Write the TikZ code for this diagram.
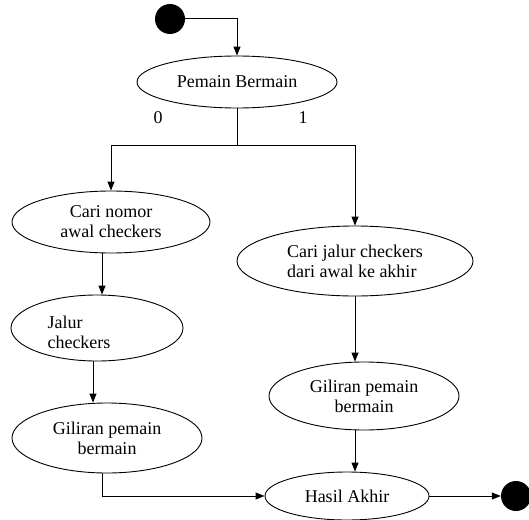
\documentclass[tikz,border=0pt]{standalone}
\usepackage{fontspec}
\setmainfont{Liberation Serif}
\newfontfamily\labelfont{Liberation Serif}
\usetikzlibrary{shapes.geometric,arrows.meta}
\begin{document}
\begin{tikzpicture}[x=1pt,y=-1pt,
  every node/.style={font=\labelfont\fontsize{18}{20}\selectfont},
  state/.style={draw,ellipse,line width=0.9pt,inner sep=0pt,align=center},
  dot/.style={circle,fill=black,inner sep=0pt,minimum size=30pt},
  link/.style={line width=1pt},
  arr/.style={link,-{Triangle[length=9pt,width=7pt]}}]
\useasboundingbox (0,0) rectangle (529,519);

% start and end points
\node[dot] (start) at (170,19) {};
\node[dot] (stop) at (516,496) {};

% activities
\node[state,minimum width=200pt,minimum height=52pt] (pb) at (237,82) {Pemain Bermain};
\node[state,minimum width=198pt,minimum height=62pt] (c1) at (111,222) {Cari nomor\\awal checkers};
\node[state,minimum width=236pt,minimum height=70pt,align=left] (c2) at (355,261) {Cari jalur checkers\\dari awal ke akhir};
\node[state,minimum width=172pt,minimum height=66pt] (jc) at (97,328) {};
\node[align=left,inner sep=0pt] (jct) at (79,332) {Jalur\\checkers};
\node[state,minimum width=190pt,minimum height=70pt] (g1) at (107,438) {Giliran pemain\\bermain};
\node[state,minimum width=190pt,minimum height=68pt] (g2) at (364,396) {Giliran pemain\\bermain};
\node[state,minimum width=164pt,minimum height=48pt] (ha) at (347,496) {Hasil Akhir};

% branch labels
\node (l0) at (158,118) {0};
\node (l1) at (303,118) {1};

% helper points for the vertical runs
\coordinate (j) at (237,145);
\coordinate (xa) at (102,0);
\coordinate (xb) at (93,0);
\coordinate (xc) at (355,0);

% connectors
\draw[arr] (start.east) -| (pb.north);
\draw[link] (pb.south) -- (j);
\draw[arr] (j) -| (c1.north);
\draw[arr] (j) -| (c2.north);
\draw[arr] (c1.south -| xa) -- (jc.north -| xa);
\draw[arr] (jc.south -| xb) -- (g1.north -| xb);
\draw[arr] (g1.south -| xa) |- (ha.west);
\draw[arr] (c2.south) -- (g2.north -| xc);
\draw[arr] (g2.south -| xc) -- (ha.north -| xc);
\draw[arr] (ha.east) -- (stop.west);
\end{tikzpicture}
\end{document}
